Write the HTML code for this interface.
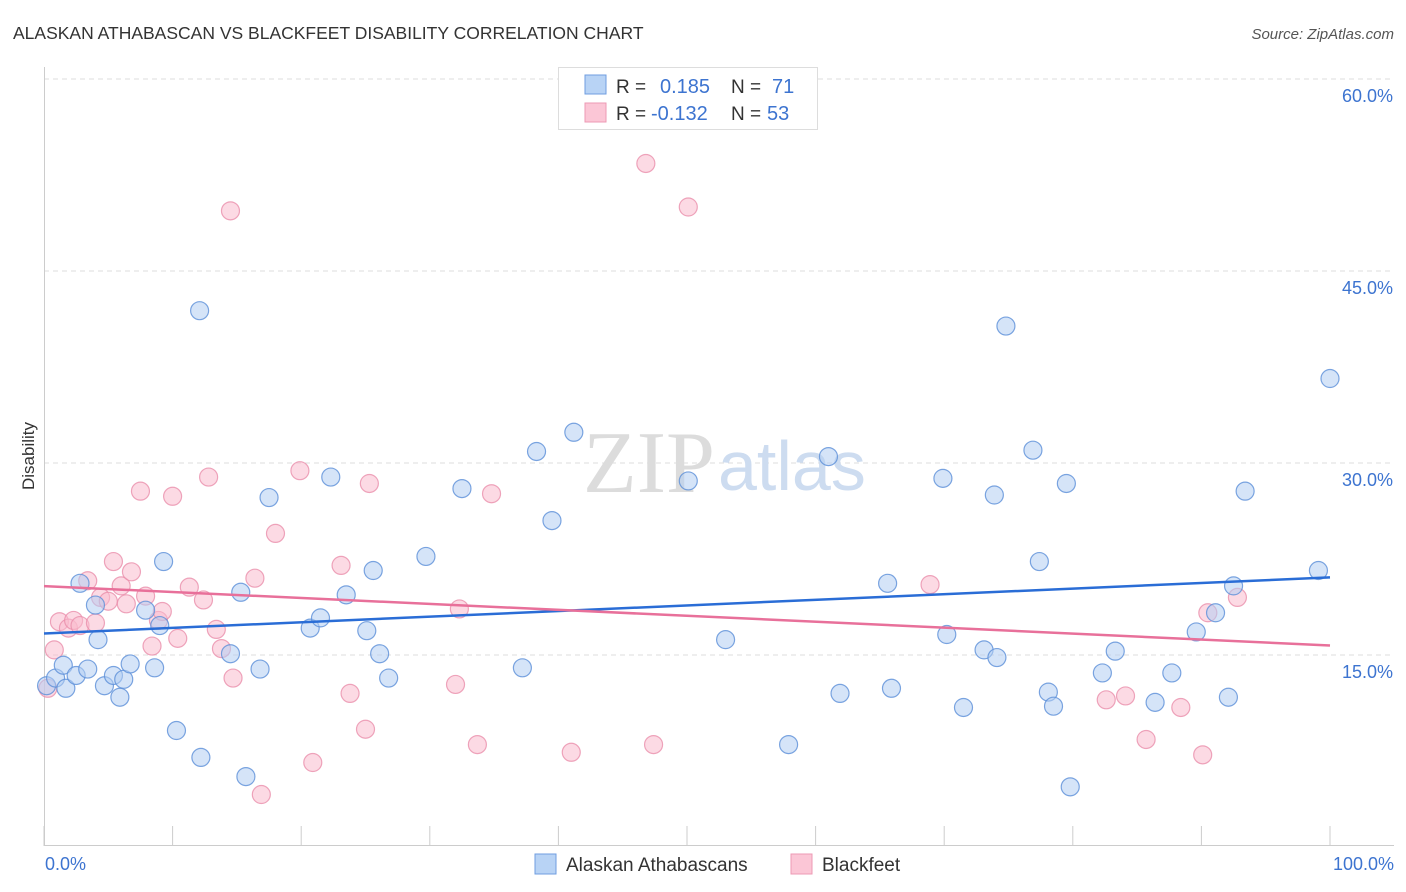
<!DOCTYPE html>
<html><head><meta charset="utf-8"><style>
body{margin:0;background:#fff;font-family:"Liberation Sans",sans-serif;}
#wrap{position:relative;width:1406px;height:892px;overflow:hidden;}
</style></head><body>
<div id="wrap">
<svg id="chart" width="1406" height="892" font-family="Liberation Sans, sans-serif">
<text x="13" y="39" font-size="17.5" fill="#333">ALASKAN ATHABASCAN VS BLACKFEET DISABILITY CORRELATION CHART</text>
<text x="1394" y="39" font-size="15" fill="#555" font-style="italic" text-anchor="end">Source: ZipAtlas.com</text>
<text x="34" y="456" font-size="17" fill="#333" text-anchor="middle" transform="rotate(-90 34 456)">Disability</text>
<g id="grid"></g>
<g id="axes"></g>
<text x="715" y="492" font-size="88" fill="#dcdcdc" text-anchor="end" style="font-family:'Liberation Serif',serif">ZIP</text>
<text x="718" y="490" font-size="70" fill="#cddcf0">atlas</text>
<g id="pts"></g>
<g id="trends"></g>
<g>
<rect x="558.5" y="67.5" width="259" height="62" fill="#fff" stroke="#ddd"/>
<rect x="585" y="75" width="21" height="19" fill="#b8d3f5" stroke="#6f9ee0"/>
<rect x="585" y="103" width="21" height="19" fill="#fbc6d6" stroke="#ec9ab4"/>
<text x="616" y="93" font-size="19" fill="#333">R = </text><text x="660" y="93" font-size="20" fill="#3d74d0">0.185</text>
<text x="731" y="93" font-size="19" fill="#333">N = </text><text x="772" y="93" font-size="20" fill="#3d74d0">71</text>
<text x="616" y="120" font-size="19" fill="#333">R = </text><text x="651" y="120" font-size="20" fill="#3d74d0">-0.132</text>
<text x="731" y="120" font-size="19" fill="#333">N = </text><text x="767" y="120" font-size="20" fill="#3d74d0">53</text>
</g>
<g>
<rect x="535" y="854" width="21" height="20" fill="#b8d3f5" stroke="#6f9ee0"/>
<text x="566" y="871" font-size="19" fill="#333">Alaskan Athabascans</text>
<rect x="791" y="854" width="21" height="20" fill="#fbc6d6" stroke="#ec9ab4"/>
<text x="822" y="871" font-size="19" fill="#333">Blackfeet</text>
</g>
</svg>
</div>
<script>
const blueX=[0.2,0.9,1.5,1.7,2.5,3.4,2.8,4.0,4.2,4.7,5.4,5.9,6.2,6.7,7.9,8.6,9.0,9.3,10.3,12.1,12.2,14.5,15.3,15.7,16.8,17.5,20.7,21.5,22.3,23.5,25.1,25.6,26.1,26.8,29.7,32.5,37.2,38.3,39.5,41.2,50.1,53.0,57.9,61.0,61.9,65.6,65.9,69.9,70.2,71.5,73.1,73.9,74.1,74.8,76.9,77.4,78.1,78.5,79.5,79.8,82.3,83.3,86.4,87.7,89.6,91.1,92.1,92.5,93.4,99.1,100];
const blueY=[12.6,13.2,14.2,12.4,13.4,13.9,20.6,18.9,16.2,12.6,13.4,11.7,13.1,14.3,18.5,14.0,17.3,22.3,9.1,41.9,7.0,15.1,19.9,5.5,13.9,27.3,17.1,17.9,28.9,19.7,16.9,21.6,15.1,13.2,22.7,28.0,14.0,30.9,25.5,32.4,28.6,16.2,8.0,30.5,12.0,20.6,12.4,28.8,16.6,10.9,15.4,27.5,14.8,40.7,31.0,22.3,12.1,11.0,28.4,4.7,13.6,15.3,11.3,13.6,16.8,18.3,11.7,20.4,27.8,21.6,36.6];
const pinkX=[0.3,0.8,1.2,1.9,2.3,2.8,3.4,4.0,4.4,5.0,5.4,6.0,6.4,6.8,7.5,7.9,8.4,8.9,9.2,10.0,10.4,11.3,12.4,12.8,13.4,13.8,14.5,14.7,16.4,16.9,18.0,19.9,20.9,23.1,23.8,25.0,25.3,32.0,32.3,33.7,34.8,41.0,46.8,47.4,50.1,68.9,82.6,84.1,85.7,88.4,90.1,90.5,92.8];
const pinkY=[12.4,15.4,17.6,17.1,17.7,17.3,20.8,17.5,19.5,19.2,22.3,20.4,19.0,21.5,27.8,19.6,15.7,17.7,18.4,27.4,16.3,20.3,19.3,28.9,17.0,15.5,49.7,13.2,21.0,4.1,24.5,29.4,6.6,22.0,12.0,9.2,28.4,12.7,18.6,8.0,27.6,7.4,53.4,8.0,50.0,20.5,11.5,11.8,8.4,10.9,7.2,18.3,19.5];
const yTicks=[15,30,45,60];
const yTickLabels=["15.0%","30.0%","45.0%","60.0%"];
const xTicks=[0,10,20,30,40,50,60,70,80,90,100];
const xEndLabels=["0.0%","100.0%"];

const X0=44,X1=1330,Y0=847,PX=192/15;
const sx=v=>X0+(X1-X0)*v/100;
const sy=v=>Y0-v*PX;
const NS="http://www.w3.org/2000/svg";
function mk(t,a,p){const e=document.createElementNS(NS,t);for(const k in a)e.setAttribute(k,a[k]);p.appendChild(e);return e;}
const grid=document.getElementById('grid'),axes=document.getElementById('axes');
yTicks.forEach((v,i)=>{
 const l=mk('line',{x1:44,x2:1394,y1:sy(v),y2:sy(v),stroke:'#ddd','stroke-dasharray':'5,4'},grid);
 
 
 const t=mk('text',{x:1393,y:sy(v)+23,'font-size':18,fill:'#3d74d0','text-anchor':'end'},axes);
 t.textContent=yTickLabels[i];
 
 
});
const ax=mk('line',{x1:44,x2:1394,y1:845.5,y2:845.5,stroke:'#ccc'},axes);


const ay=mk('line',{x1:44.5,x2:44.5,y1:67,y2:846,stroke:'#ccc'},axes);


xTicks.forEach(v=>{
 const l=mk('line',{x1:sx(v),x2:sx(v),y1:826,y2:846,stroke:'#ccc'},axes);
 
 
});
[[0,'start',45],[100,'end',1394]].forEach((d,i)=>{
 const t=mk('text',{x:d[2],y:870,'font-size':18,fill:'#3d74d0','text-anchor':d[1]},axes);
 t.textContent=xEndLabels[i];
 
 
});
const pts=document.getElementById('pts');
function drawPts(xs,ys,fill,stroke,name){
 xs.forEach((x,i)=>{
  const c=mk('circle',{cx:sx(x),cy:sy(ys[i]),r:9,fill:fill,'fill-opacity':0.55,stroke:stroke,'stroke-opacity':0.8,'stroke-width':1.2},pts);
  
  
 });
}
drawPts(pinkX,pinkY,'#f9bccd','#ea8fab','blackfeet-point');
drawPts(blueX,blueY,'#b2cdf2','#5b8ed8','alaskan-point');
function reg(xs,ys){const n=xs.length;let mx=0,my=0;for(let i=0;i<n;i++){mx+=xs[i];my+=ys[i];}mx/=n;my/=n;let a=0,b=0;for(let i=0;i<n;i++){a+=(xs[i]-mx)*(ys[i]-my);b+=(xs[i]-mx)**2;}const m=a/b;return [my-m*mx,my+m*(100-mx)];}
const tr=document.getElementById('trends');
const rb=reg(blueX,blueY),rp=reg(pinkX,pinkY);
const lb=mk('line',{x1:sx(0),x2:sx(100),y1:sy(rb[0]),y2:sy(rb[1]),stroke:'#2a6dd6','stroke-width':2.5},tr);


const lp=mk('line',{x1:sx(0),x2:sx(100),y1:sy(rp[0]),y2:sy(rp[1]),stroke:'#e8709a','stroke-width':2.5},tr);


</script>
</body></html>
